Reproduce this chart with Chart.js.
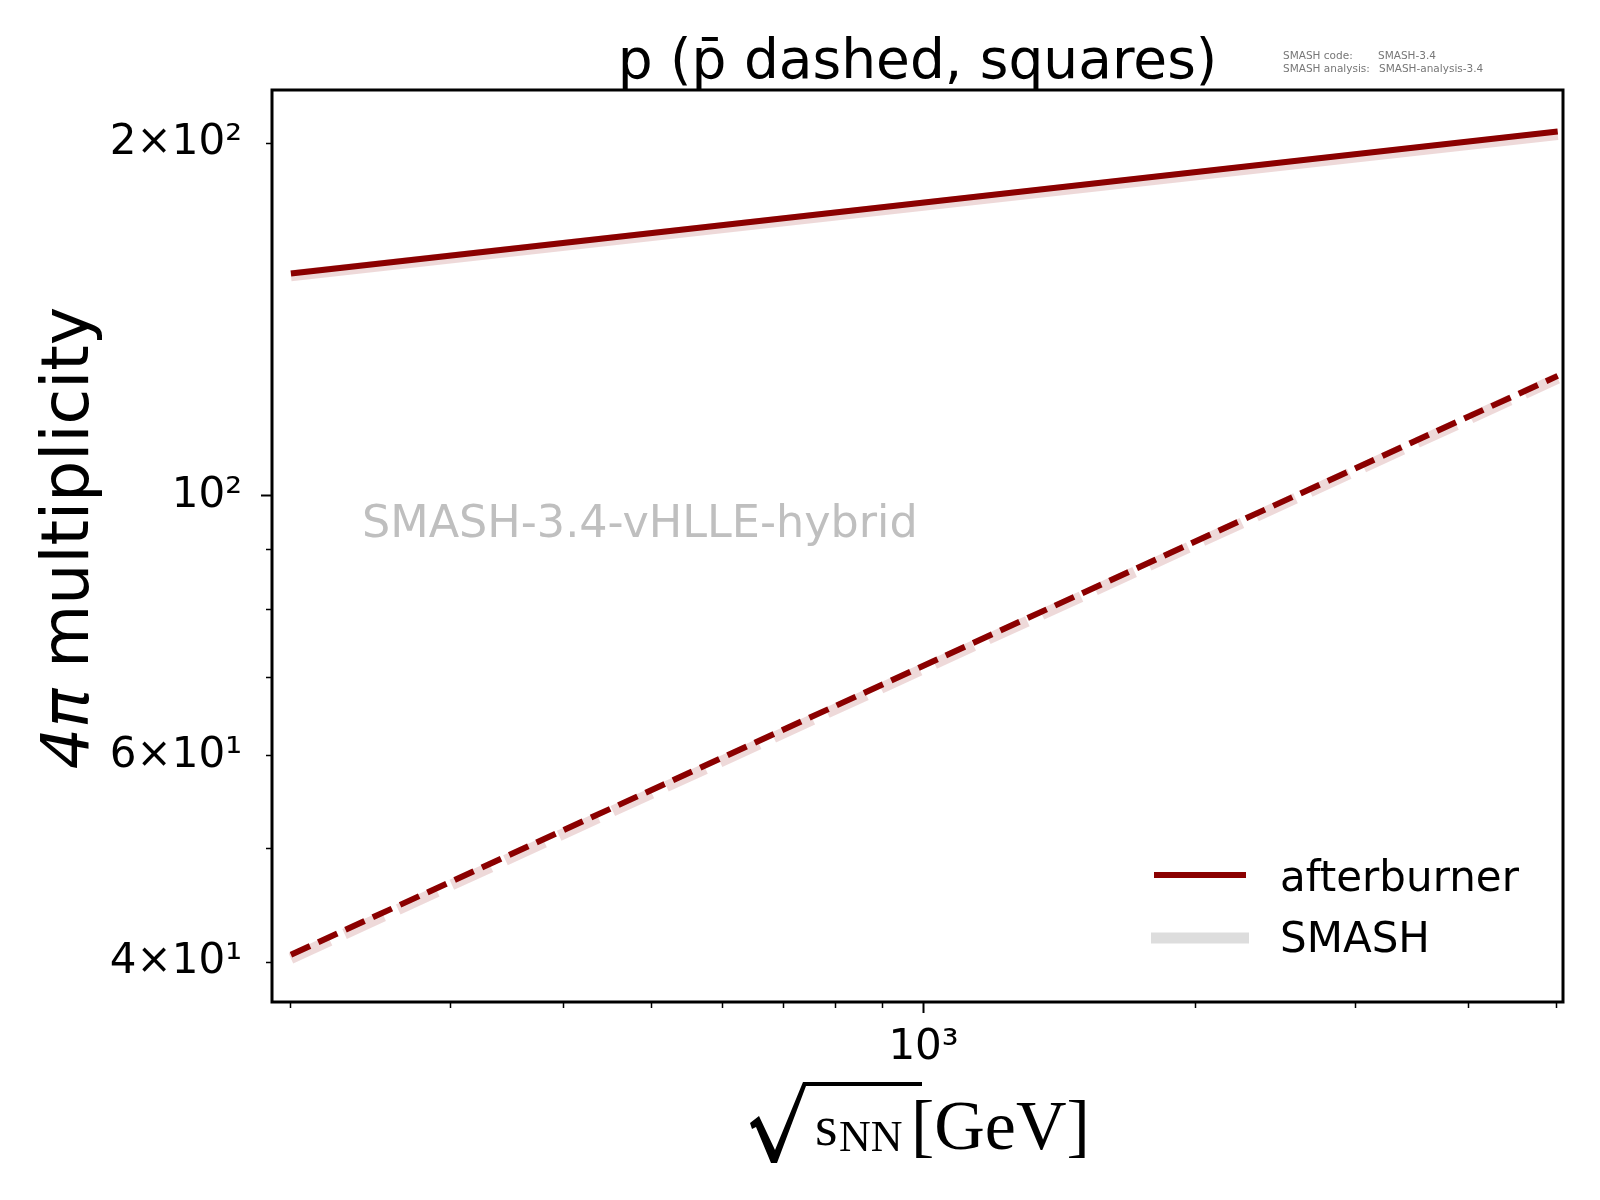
<!DOCTYPE html>
<html>
<head>
<meta charset="utf-8">
<title>p multiplicity</title>
<script src="https://cdn.jsdelivr.net/npm/chart.js@4.4.0/dist/chart.umd.min.js"></script>
<style>
  html, body { margin: 0; padding: 0; background: #fff; }
  #wrap { width: 1600px; height: 1200px; }
</style>
</head>
<body>
<div id="wrap"><canvas id="multChart" width="1600" height="1200"></canvas></div>
<script>
// sqrt(s_NN) in GeV
const energies = [200, 5020];
// 4pi multiplicities
const afterburnerP = [154.8, 204.6];
const afterburnerPbar = [40.6, 126.6];
const smashP = [154.1, 203.4];
const smashPbar = [40.3, 126.0];

const xTickValues = [200, 300, 400, 500, 600, 700, 800, 900, 1000, 2000, 3000, 4000, 5000];
const xTickLabels = ['', '', '', '', '', '', '', '', '10\u00b3', '', '', '', ''];
const xMajor = [1000];
const yTickValues = [40, 50, 60, 70, 80, 90, 100, 200];
const yTickLabels = ['4\u00d710\u00b9', '', '6\u00d710\u00b9', '', '', '', '10\u00b2', '2\u00d710\u00b2'];
const yMajor = [100];

const legendLabels = ['afterburner', 'SMASH'];
const titleText = 'p (p\u0304 dashed, squares)';
const watermark = 'SMASH-3.4-vHLLE-hybrid';

const DARK = '#8b0000';
const PINK = 'rgba(139, 0, 0, 0.15)';

function pts(ys) {
	return energies.map(function (e, i) { return { x: e, y: ys[i] }; });
}

const extras = {
	id: 'extras',
	afterDraw: function (chart) {
		const ctx = chart.ctx;
		const a = chart.chartArea;
		ctx.save();

		// frame
		ctx.strokeStyle = '#000';
		ctx.lineWidth = 3;
		ctx.strokeRect(a.left, a.top, a.right - a.left, a.bottom - a.top);

		// title
		ctx.fillStyle = '#000';
		ctx.font = '55px "DejaVu Sans"';
		ctx.textAlign = 'center';
		ctx.textBaseline = 'alphabetic';
		ctx.fillText(titleText, (a.left + a.right) / 2, 78);

		// version note
		ctx.fillStyle = '#777';
		ctx.font = '10.5px "DejaVu Sans"';
		ctx.textAlign = 'left';
		ctx.fillText('SMASH code:', 1283, 59);
		ctx.fillText('SMASH-3.4', 1378, 59);
		ctx.fillText('SMASH analysis:', 1283, 72);
		ctx.fillText('SMASH-analysis-3.4', 1379, 72);

		// watermark
		ctx.fillStyle = '#bfbfbf';
		ctx.font = '44.5px "DejaVu Sans"';
		ctx.textBaseline = 'middle';
		ctx.fillText(watermark, 362, 525);

		// legend
		ctx.lineCap = 'butt';
		ctx.strokeStyle = DARK;
		ctx.lineWidth = 6;
		ctx.beginPath(); ctx.moveTo(1154, 875); ctx.lineTo(1246, 875); ctx.stroke();
		ctx.strokeStyle = '#dddddd';
		ctx.lineWidth = 11;
		ctx.beginPath(); ctx.moveTo(1151, 938); ctx.lineTo(1249, 938); ctx.stroke();
		ctx.fillStyle = '#000';
		ctx.font = '42px "DejaVu Sans"';
		ctx.textBaseline = 'alphabetic';
		ctx.fillText(legendLabels[0], 1280, 891);
		ctx.fillText(legendLabels[1], 1280, 952);

		// y axis title: italic 4pi + multiplicity
		ctx.save();
		ctx.font = 'italic 65px "DejaVu Sans"';
		const w1 = ctx.measureText('4\u03c0').width;
		ctx.font = '65px "DejaVu Sans"';
		const w2 = ctx.measureText(' multiplicity').width;
		const cy = 538;
		ctx.translate(88, cy + (w1 + w2) / 2);
		ctx.rotate(-Math.PI / 2);
		ctx.font = 'italic 65px "DejaVu Sans"';
		ctx.fillText('4\u03c0', 0, 0);
		ctx.font = '65px "DejaVu Sans"';
		ctx.fillText(' multiplicity', w1, 0);
		ctx.restore();

		// x axis title: sqrt(s_NN) [GeV]
		ctx.fillStyle = '#000';
		ctx.beginPath();
		ctx.moveTo(750, 1123);
		ctx.lineTo(759, 1116);
		ctx.lineTo(775, 1150);
		ctx.lineTo(803, 1082);
		ctx.lineTo(922, 1082);
		ctx.lineTo(922, 1086);
		ctx.lineTo(806, 1086);
		ctx.lineTo(777, 1163);
		ctx.lineTo(771, 1163);
		ctx.lineTo(756, 1127);
		ctx.lineTo(752, 1129);
		ctx.closePath();
		ctx.fill();
		ctx.font = '58px "Liberation Serif"';
		ctx.fillText('s', 815, 1145);
		ctx.font = '44px "Liberation Serif"';
		ctx.fillText('NN', 839, 1151);
		ctx.font = '70px "Liberation Serif"';
		ctx.fillText('[GeV]', 911, 1149);

		ctx.restore();
	}
};

const ctx = document.getElementById('multChart').getContext('2d');
const multChart = new Chart(ctx, {
	type: 'line',
	data: {
		datasets: [{
			label: 'afterburner p',
			data: pts(afterburnerP),
			borderColor: DARK,
			borderWidth: 6,
			order: 0
		},
		{
			label: 'afterburner pbar',
			data: pts(afterburnerPbar),
			borderColor: DARK,
			borderWidth: 6,
			borderDash: [21, 9],
			order: 1
		},
		{
			label: 'SMASH p',
			data: pts(smashP),
			borderColor: PINK,
			borderWidth: 11,
			order: 2
		},
		{
			label: 'SMASH pbar',
			data: pts(smashPbar),
			borderColor: PINK,
			borderWidth: 11,
			borderDash: [43, 16],
			order: 3
		}]
	},
	options: {
		responsive: false,
		animation: false,
		devicePixelRatio: 1,
		parsing: false,
		layout: { padding: { top: 90, right: 37, left: 0, bottom: 0 } },
		elements: {
			point: { radius: 0 },
			line: { tension: 0, fill: false, borderCapStyle: 'butt' }
		},
		plugins: {
			legend: { display: false },
			tooltip: { enabled: false },
			title: { display: false }
		},
		scales: {
			x: {
				type: 'logarithmic',
				min: 190.6,
				max: 5088,
				border: { display: false },
				grid: {
					drawOnChartArea: false,
					drawTicks: true,
					tickLength: 11,
					tickColor: '#000',
					tickWidth: function (c) { return xMajor.includes(c.tick && c.tick.value) ? 2 : 1.5; },
					tickBorderDash: function (c) { return xMajor.includes(c.tick && c.tick.value) ? [] : [6, 50]; }
				},
				ticks: {
					autoSkip: false,
					maxRotation: 0,
					minRotation: 0,
					padding: 10,
					color: '#000',
					font: { family: 'DejaVu Sans', size: 42 },
					callback: function (v, i) { return xTickLabels[i]; }
				},
				afterBuildTicks: function (scale) {
					scale.ticks = xTickValues.map(function (v) { return { value: v }; });
				},
				afterFit: function (scale) { scale.height = 198; }
			},
			y: {
				type: 'logarithmic',
				min: 37.0,
				max: 222.0,
				border: { display: false },
				grid: {
					drawOnChartArea: false,
					drawTicks: true,
					tickLength: 11,
					tickColor: '#000',
					tickWidth: function (c) { return yMajor.includes(c.tick && c.tick.value) ? 2 : 1.5; },
					tickBorderDash: function (c) { return yMajor.includes(c.tick && c.tick.value) ? [] : [0, 5, 6, 50]; }
				},
				ticks: {
					autoSkip: false,
					padding: 19,
					color: '#000',
					font: { family: 'DejaVu Sans', size: 42 },
					callback: function (v, i) { return yTickLabels[i]; }
				},
				afterBuildTicks: function (scale) {
					scale.ticks = yTickValues.map(function (v) { return { value: v }; });
				},
				afterFit: function (scale) { scale.width = 272; }
			}
		}
	},
	plugins: [extras]
});
</script>
</body>
</html>
